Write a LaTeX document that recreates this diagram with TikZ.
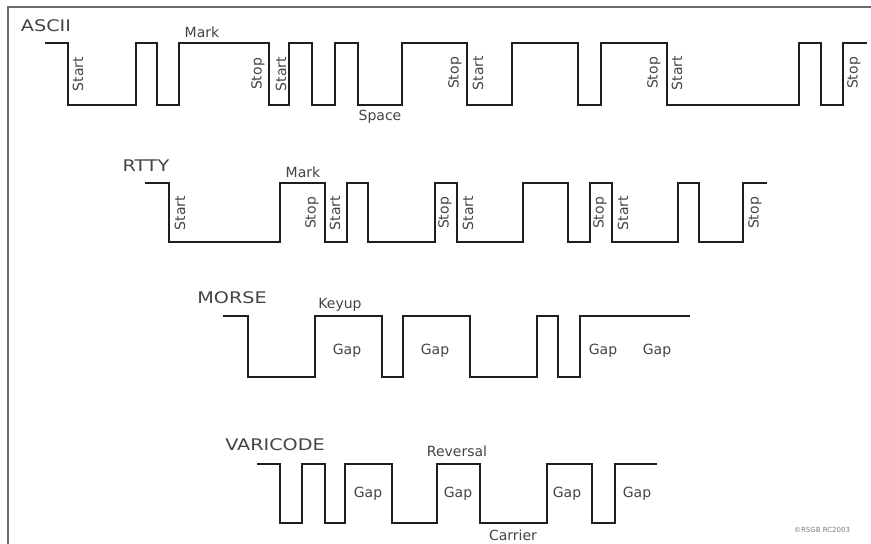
\documentclass[tikz,border=0pt]{standalone}
\usepackage{fontspec}
\setmainfont{DejaVu Sans}
\newfontfamily\titlefont[FakeStretch=1.2]{DejaVu Sans}
\definecolor{wave}{HTML}{1E1E1E}
\definecolor{txt}{HTML}{444444}
\definecolor{frame}{HTML}{6A6A6A}
\begin{document}
\begin{tikzpicture}[x=1pt,y=-1pt,
  wavepath/.style={draw=wave,line width=2.6pt,line join=miter},
  title/.style={text=txt,font=\titlefont\fontsize{16}{18}\selectfont,inner sep=0pt},
  lbl/.style={text=txt,font=\fontsize{14}{16}\selectfont,inner sep=0pt},
  vlbl/.style={lbl,rotate=90}]
\useasboundingbox (0,0) rectangle (871,544);
\fill[white] (0,0) rectangle (871,544);
% frame
\draw[frame,line width=1.6pt] (8,544) -- (8,7) -- (871,7);
% ASCII
\draw[wavepath] (45,43) -| (68,105) -| (136,43) -| (157,105) -| (179,43) -| (269,105) -| (289,43) -| (312,105) -| (335,43) -| (358,105) -| (402,43) -| (467,105) -| (512,43) -| (578,105) -| (601,43) -| (667,105) -| (799,43) -| (821,105) -| (843,43) -- (867,43);
\node[title] (tascii) at (46,26) {ASCII};
\node[lbl] (amark) at (202,32) {Mark};
\node[lbl] (aspace) at (380,117) {Space};
\node[vlbl] (a1) at (78,74) {Start};
\node[vlbl] (a2) at (258,74) {Stop};
\node[vlbl] (a3) at (281,74) {Start};
\node[vlbl] (a4) at (455,73) {Stop};
\node[vlbl] (a5) at (478,73) {Start};
\node[vlbl] (a6) at (654,73) {Stop};
\node[vlbl] (a7) at (677,73) {Start};
\node[vlbl] (a8) at (854,73) {Stop};
% RTTY
\draw[wavepath] (145,183) -| (169,242) -| (280,183) -| (325,242) -| (347,183) -| (368,242) -| (435,183) -| (457,242) -| (523,183) -| (568,242) -| (590,183) -| (612,242) -| (678,183) -| (699,242) -| (743,183) -- (767,183);
\node[title] (trtty) at (146,166) {RTTY};
\node[lbl] (rmark) at (303,172) {Mark};
\node[vlbl] (r1) at (180,213) {Start};
\node[vlbl] (r2) at (312,213) {Stop};
\node[vlbl] (r3) at (335,213) {Start};
\node[vlbl] (r4) at (445,213) {Stop};
\node[vlbl] (r5) at (468,213) {Start};
\node[vlbl] (r6) at (600,213) {Stop};
\node[vlbl] (r7) at (623,213) {Start};
\node[vlbl] (r8) at (755,213) {Stop};
% MORSE
\draw[wavepath] (223,316) -| (248,377) -| (315,316) -| (382,377) -| (403,316) -| (470,377) -| (537,316) -| (558,377) -| (580,316) -- (690,316);
\node[title] (tmorse) at (232,298) {MORSE};
\node[lbl] (keyup) at (340,305) {Keyup};
\node[lbl] (mg1) at (347,351) {Gap};
\node[lbl] (mg2) at (435,351) {Gap};
\node[lbl] (mg3) at (603,351) {Gap};
\node[lbl] (mg4) at (657,351) {Gap};
% VARICODE
\draw[wavepath] (257,464) -| (280,523) -| (302,464) -| (325,523) -| (345,464) -| (392,523) -| (437,464) -| (480,523) -| (547,464) -| (592,523) -| (615,464) -- (657,464);
\node[title] (tvari) at (275,445) {VARICODE};
\node[lbl] (rev) at (457,451) {Reversal};
\node[lbl] (vg1) at (368,494) {Gap};
\node[lbl] (vg2) at (458,494) {Gap};
\node[lbl] (vg3) at (567,494) {Gap};
\node[lbl] (vg4) at (637,494) {Gap};
\node[lbl] (carrier) at (513,535) {Carrier};
% copyright
\node[text=txt!70,font=\fontsize{7}{8}\selectfont,inner sep=0pt] (copy) at (822,530) {©RSGB RC2003};
\end{tikzpicture}
\end{document}
